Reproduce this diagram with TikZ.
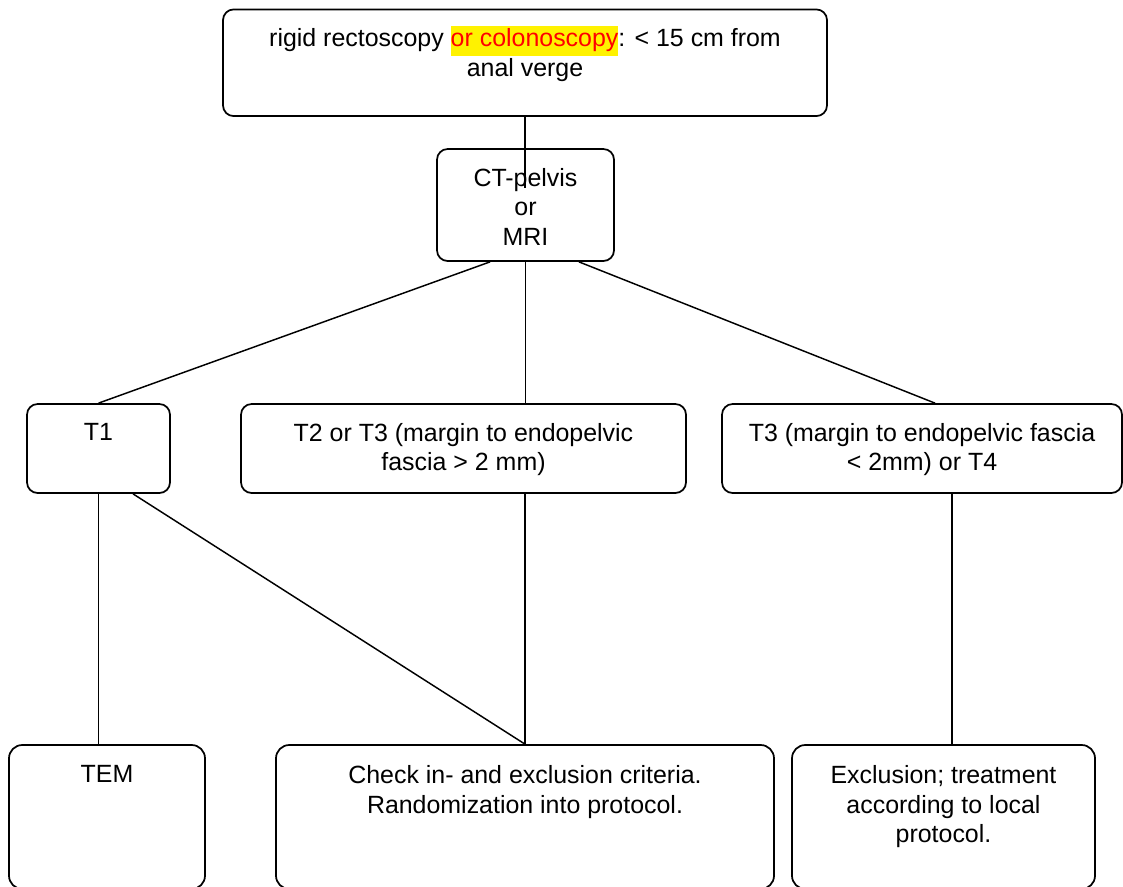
\documentclass[tikz,border=0pt]{standalone}
\usepackage{fontspec}
\setmainfont{Liberation Sans}
\usetikzlibrary{positioning}
\newcommand{\hiliteword}[1]{{\setlength{\fboxsep}{0pt}\colorbox{yellow}{\strut\textcolor{red}{#1}}}}
\tikzset{
  box/.style={draw, rounded corners=8pt, line width=1.3pt},
  txt/.style={align=center, inner sep=0pt, font=\fontsize{18.7}{22.1}\selectfont},
  link/.style={line width=1.1pt}
}
\begin{document}
\begin{tikzpicture}[x=0.75pt,y=-0.75pt]
\useasboundingbox (0,0) rectangle (1123,886);
\node[box, minimum width=453pt, minimum height=80pt] (scope) at (525,62.75) {};
\node[txt, below=13pt of scope.north] (scopetxt) {rigid rectoscopy \hiliteword{or colonoscopy}: < 15 cm from\\anal verge};
\node[box, minimum width=132.75pt, minimum height=84pt] (ct) at (525.5,205) {};
\node[txt, below=15pt of ct.north] (cttxt) {CT-pelvis\\or\\MRI};
\coordinate (ctmark) at (525,188);
\node[box, minimum width=107.25pt, minimum height=66.75pt] (t1) at (98.5,448.5) {};
\node[txt, below=15pt of t1.north] (t1txt) {T1};
\node[box, minimum width=333.75pt, minimum height=66.75pt] (t2) at (463.5,448.5) {};
\node[txt, below=15pt of t2.north] (t2txt) {T2 or T3 (margin to endopelvic\\fascia > 2 mm)};
\node[box, minimum width=300pt, minimum height=66.75pt] (t3) at (922,448.5) {};
\node[txt, below=15pt of t3.north] (t3txt) {T3 (margin to endopelvic fascia\\< 2mm) or T4};
\node[box, rounded corners=10pt, minimum width=147pt, minimum height=108pt] (tem) at (107,817) {};
\node[txt, below=16pt of tem.north] (temtxt) {TEM};
\node[box, rounded corners=10pt, minimum width=373.5pt, minimum height=108pt] (check) at (525,817) {};
\node[txt, below=16pt of check.north] (checktxt) {Check in- and exclusion criteria.\\Randomization into protocol.};
\node[box, rounded corners=10pt, minimum width=227.25pt, minimum height=108pt] (excl) at (943.5,817) {};
\node[txt, below=16pt of excl.north] (excltxt) {Exclusion; treatment\\according to local\\protocol.};
\draw[link] (scope.south) -- (ctmark);
\draw[link] ([xshift=-26.6pt]ct.south) -- (t1.north);
\draw[link] (ct.south) -- (ct.south |- t2.north);
\draw[link] ([xshift=40.1pt]ct.south) -- ([xshift=9.75pt]t3.north);
\draw[link] (t1.south) -- (t1.south |- tem.north);
\draw[link] ([xshift=25.9pt]t1.south) -- (check.north);
\draw[link] (check.north |- t2.south) -- (check.north);
\draw[link] ([xshift=22.5pt]t3.south) -- ([xshift=22.5pt]t3.south |- excl.north);
\end{tikzpicture}
\end{document}
